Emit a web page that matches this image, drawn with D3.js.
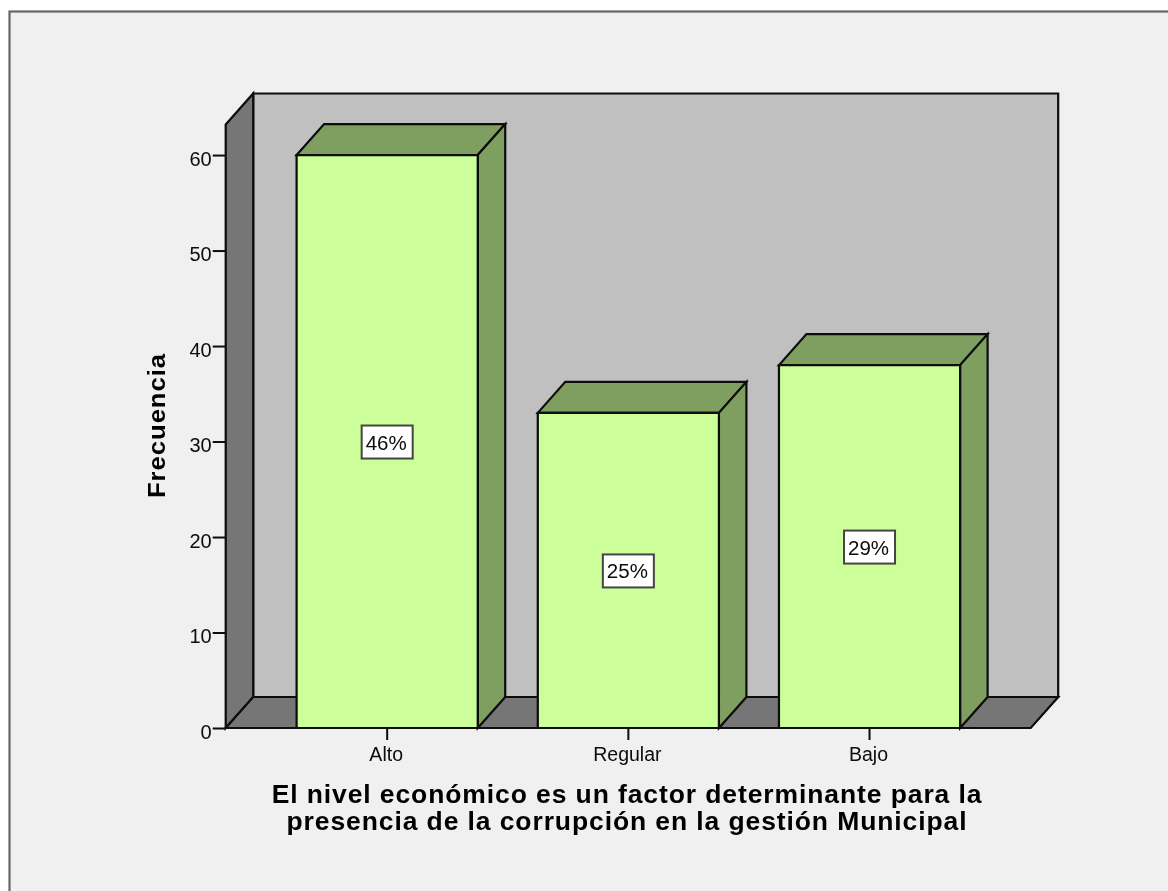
<!DOCTYPE html>
<html><head><meta charset="utf-8">
<script src="https://cdn.jsdelivr.net/npm/d3@7/dist/d3.min.js"></script>
<style>html,body{margin:0;padding:0;background:#fff;overflow:hidden}svg{display:block}text{font-family:"Liberation Sans",Arial,sans-serif}</style>
</head><body><svg id="c" width="1168" height="891"></svg>
<script>
const categories = ["Alto","Regular","Bajo"];
const frecuencia = [60,33,38];
const percentLabels = ["46%","25%","29%"];
const yTicks = [0,10,20,30,40,50,60];
const yMax = 63.2;
const xTitleLines = ["El nivel económico es un factor determinante para la","presencia de la corrupción en la gestión Municipal"];
const yTitle = "Frecuencia";

const root = d3.select("#c");
root.append("defs").append("filter").attr("id","soft").attr("filterUnits","userSpaceOnUse")
  .attr("x",0).attr("y",0).attr("width",1168).attr("height",891)
  .append("feGaussianBlur").attr("stdDeviation",0.5);
const svg = root.append("g").attr("filter","url(#soft)");
const dx = 27.5, dy = -31;
const x0 = 225.7, x1 = 1030.7;
const y = d3.scaleLinear().domain([0,yMax]).range([728,124.5]);
const x = d3.scaleBand().domain(categories).range([266.7,990]).paddingInner(0.249).paddingOuter(0.124);
const ink = "#0a0a0a";
const poly = (pts,fill,sw=2.2) => svg.append("path").attr("d",d3.line()(pts)+"Z").attr("fill",fill).attr("stroke",ink).attr("stroke-width",sw).attr("stroke-linejoin","miter");

svg.append("rect").attr("x",9.5).attr("y",11.5).attr("width",1175).attr("height",900).attr("fill","#f0f0f0").attr("stroke","#666").attr("stroke-width",2.2);

// walls
const yT = y(yMax), yB = y(0);
poly([[x0+dx,yT+dy],[x1+dx,yT+dy],[x1+dx,yB+dy],[x0+dx,yB+dy]],"#c0c0c0");
poly([[x0,yT],[x0+dx,yT+dy],[x0+dx,yB+dy],[x0,yB]],"#767676");
poly([[x0,yB],[x0+dx,yB+dy],[x1+dx,yB+dy],[x1,yB]],"#767676");

// bars
categories.forEach((c,i)=>{
  const l=x(c), r=l+x.bandwidth(), t=y(frecuencia[i]);
  poly([[l,t],[l+dx,t+dy],[r+dx,t+dy],[r,t]],"#7f9f60");
  poly([[r,t],[r+dx,t+dy],[r+dx,yB+dy],[r,yB]],"#7f9f60");
  poly([[l,t],[r,t],[r,yB],[l,yB]],"#ccff99");
  const cx=(l+r)/2, cy=y(frecuencia[i]/2);
  svg.append("rect").attr("x",cx-25.5).attr("y",cy-16).attr("width",51).attr("height",33).attr("fill","#fff").attr("stroke","#444").attr("stroke-width",2);
  svg.append("text").attr("x",cx-1).attr("y",cy+8).attr("text-anchor","middle").attr("font-size",20.5).attr("fill",ink).text(percentLabels[i]);
});

// axes
const yAxis = svg.append("g").attr("transform",`translate(${x0},0)`).call(d3.axisLeft(y).tickValues(yTicks).tickSize(13).tickPadding(1));
yAxis.select(".domain").remove();
yAxis.selectAll("line").attr("stroke",ink).attr("stroke-width",2);
yAxis.selectAll("text").attr("font-size",20).attr("dy","0.5em").attr("fill",ink).style("font-family",'"Liberation Sans",Arial,sans-serif');

const xAxis = svg.append("g").attr("transform",`translate(0,${yB})`).call(d3.axisBottom(x).tickSize(12).tickPadding(7));
xAxis.select(".domain").remove();
xAxis.selectAll("line").attr("stroke",ink).attr("stroke-width",2);
xAxis.selectAll("text").attr("font-size",19.5).attr("dx",-1).attr("fill",ink).style("font-family",'"Liberation Sans",Arial,sans-serif');

svg.append("line").attr("x1",x0).attr("x2",x1).attr("y1",yB).attr("y2",yB).attr("stroke",ink).attr("stroke-width",2.2);

svg.append("text").attr("transform","translate(165,425.5) rotate(-90) scale(1.07,1)").attr("text-anchor","middle").attr("font-size",24).attr("font-weight","bold").attr("letter-spacing",0.9).attr("fill","#000").text(yTitle);

xTitleLines.forEach((t,i)=>svg.append("text").attr("transform",`translate(627,${803+i*27}) scale(1.06,1)`).attr("text-anchor","middle").attr("font-size",25).attr("font-weight","bold").attr("letter-spacing",0.85).attr("fill","#000").text(t));
</script></body></html>
